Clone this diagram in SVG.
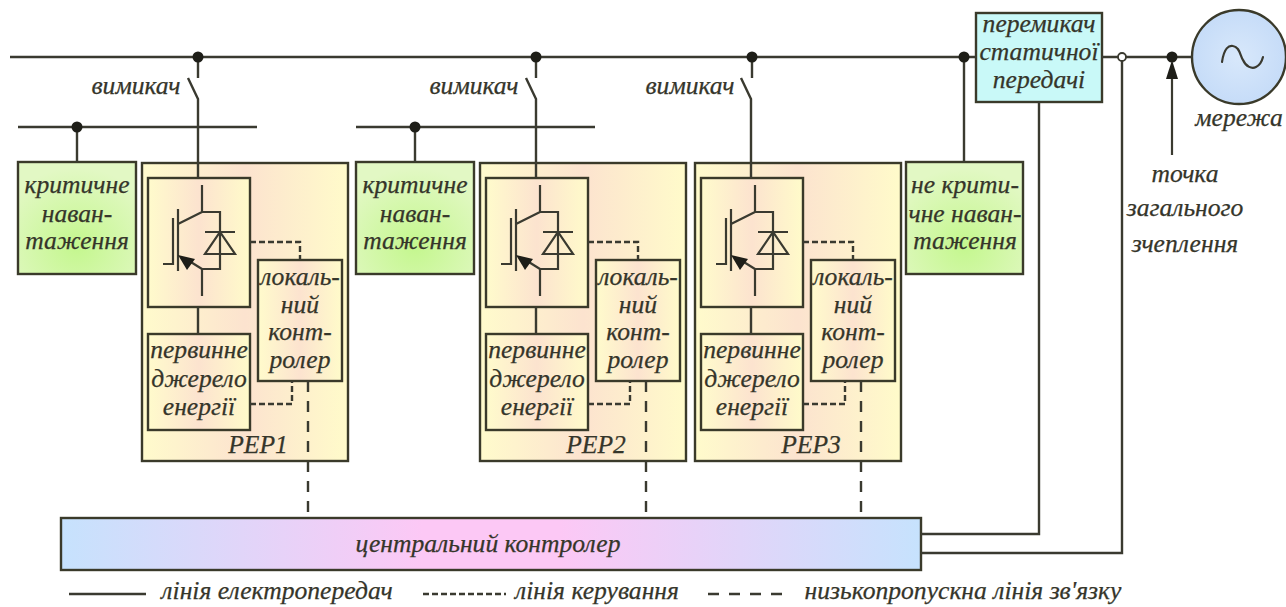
<svg xmlns="http://www.w3.org/2000/svg" width="1286" height="607" viewBox="0 0 1286 607">
<style>
text{font-family:"Liberation Serif","Times New Roman",serif;font-style:italic;font-size:25.6px;fill:#35352a;stroke:#35352a;stroke-width:.25;text-anchor:middle}
.box{stroke:#3a3a2a;stroke-width:2.4}
.w{fill:none;stroke:#3a3a30;stroke-width:2.4}
.t{fill:none;stroke:#3a3a30;stroke-width:2.2}
.d{fill:none;stroke:#3a3a30;stroke-width:2.4;stroke-dasharray:6 3}
.l{fill:none;stroke:#3a3a30;stroke-width:2.4;stroke-dasharray:11 9}
.dot{fill:#1e1e18}
</style>
<defs>
<linearGradient id="der"><stop offset="0" stop-color="#fffbcc"/><stop offset=".5" stop-color="#fce3cf"/><stop offset="1" stop-color="#fffbca"/></linearGradient>
<radialGradient id="green" cx=".5" cy=".75" r=".7"><stop offset="0" stop-color="#c4f78e"/><stop offset="1" stop-color="#e2f8c4"/></radialGradient>
<linearGradient id="central"><stop offset="0" stop-color="#c6e2fd"/><stop offset=".42" stop-color="#fcc8f5"/><stop offset=".58" stop-color="#fcc8f5"/><stop offset="1" stop-color="#c6e2fd"/></linearGradient>
<radialGradient id="grid"><stop offset="0" stop-color="#d8e8fb"/><stop offset="1" stop-color="#c6dcf8"/></radialGradient>
</defs>
<rect width="1286" height="607" fill="#fff"/>
<g id="load1"><rect class="box" x="18" y="162" width="118" height="112" fill="url(#green)"/><text x="77" y="193">критичне</text><text x="77" y="222">наван-</text><text x="77" y="249">таження</text></g>
<g id="load2"><rect class="box" x="356" y="162" width="118" height="112" fill="url(#green)"/><text x="415" y="193">критичне</text><text x="415" y="222">наван-</text><text x="415" y="249">таження</text></g>
<g id="load3"><rect class="box" x="906" y="162" width="117" height="112" fill="url(#green)"/><text x="965" y="193">не крити-</text><text x="965" y="222">чне наван-</text><text x="965" y="249">таження</text></g>

<g id="der1">
<rect class="box" x="142" y="163" width="206" height="298" fill="url(#der)"/>
<rect class="box" x="148" y="178" width="102" height="129" fill="url(#der)"/>
<path class="t" d="M202 185V212H220V269H202V296M178 209V271M173 218V264H163M178 224L202 212M186 259L202 269M205 232H235M205 254H235L220 232Z"/><path class="dot" d="M178 255L195 259L187 270Z"/>
<rect class="box" x="148" y="334" width="102" height="96" fill="url(#der)"/>
<rect class="box" x="258" y="260" width="84" height="121" fill="url(#der)"/>
<text x="300" y="285">локаль-</text><text x="300" y="313">ний</text><text x="300" y="340">конт-</text><text x="300" y="368">ролер</text>
<text x="199" y="358">первинне</text><text x="199" y="387">джерело</text><text x="199" y="415">енергії</text>
<text x="258" y="453">РЕР1</text>
</g>
<g id="der2">
<rect class="box" x="480" y="163" width="206" height="298" fill="url(#der)"/>
<rect class="box" x="486" y="178" width="102" height="129" fill="url(#der)"/>
<path class="t" d="M540 185V212H558V269H540V296M516 209V271M511 218V264H501M516 224L540 212M524 259L540 269M543 232H573M543 254H573L558 232Z"/><path class="dot" d="M516 255L533 259L525 270Z"/>
<rect class="box" x="486" y="334" width="102" height="96" fill="url(#der)"/>
<rect class="box" x="596" y="260" width="84" height="121" fill="url(#der)"/>
<text x="638" y="285">локаль-</text><text x="638" y="313">ний</text><text x="638" y="340">конт-</text><text x="638" y="368">ролер</text>
<text x="537" y="358">первинне</text><text x="537" y="387">джерело</text><text x="537" y="415">енергії</text>
<text x="596" y="453">РЕР2</text>
</g>
<g id="der3">
<rect class="box" x="695" y="163" width="206" height="298" fill="url(#der)"/>
<rect class="box" x="701" y="178" width="102" height="129" fill="url(#der)"/>
<path class="t" d="M755 185V212H773V269H755V296M731 209V271M726 218V264H716M731 224L755 212M739 259L755 269M758 232H788M758 254H788L773 232Z"/><path class="dot" d="M731 255L748 259L740 270Z"/>
<rect class="box" x="701" y="334" width="102" height="96" fill="url(#der)"/>
<rect class="box" x="811" y="260" width="84" height="121" fill="url(#der)"/>
<text x="853" y="285">локаль-</text><text x="853" y="313">ний</text><text x="853" y="340">конт-</text><text x="853" y="368">ролер</text>
<text x="752" y="358">первинне</text><text x="752" y="387">джерело</text><text x="752" y="415">енергії</text>
<text x="811" y="453">РЕР3</text>
</g>
<g id="static-switch"><rect class="box" x="976" y="13" width="126" height="89" fill="#c9f9f8"/><text x="1039" y="32">перемикач</text><text x="1039" y="60">статичної</text><text x="1039" y="88">передачі</text></g>
<g id="grid-source"><circle class="box" cx="1239" cy="57" r="47" fill="url(#grid)"/><path class="t" stroke-linecap="round" d="M1222 62C1224 48 1229 45 1233 46C1240 47 1240 56 1243 60C1246 67 1252 69 1256 67C1260 65 1262 61 1263 57"/><text x="1239" y="126">мережа</text></g>
<g id="central-controller"><rect class="box" x="61" y="518" width="860" height="52" fill="url(#central)"/><text x="488" y="552">центральний контролер</text></g>
<g id="connectors">
<path class="w" d="M10 57H976M1102 57H1192"/>
<path class="w" d="M198 57V78M188 78L198 99V178M18 127H257M77 127V162M198 307V334"/>
<path class="w" d="M536 57V78M526 78L536 99V178M356 127H595M415 127V162M536 307V334"/>
<path class="w" d="M752 57V78M741 78L751 99V178M751 307V334"/>
<path class="w" d="M964 57V162M1039 102V534H921M1122 57V553H921"/>
<path class="t" d="M1172 155V76"/>
<path class="dot" d="M1172 60L1178 79H1166Z"/>
<path class="d" d="M250 242H300V260M250 404H292V381M588 242H638V260M588 404H630V381M803 242H853V260M803 404H845V381"/>
<path class="l" d="M308 381V518M646 381V518M861 381V518"/>
<circle class="dot" cx="198" cy="57" r="5.5"/><circle class="dot" cx="536" cy="57" r="5.5"/><circle class="dot" cx="752" cy="57" r="5.5"/><circle class="dot" cx="964" cy="57" r="5.5"/><circle class="dot" cx="1172" cy="57" r="5.5"/>
<circle class="dot" cx="77" cy="127" r="5.5"/><circle class="dot" cx="415" cy="127" r="5.5"/>
<circle cx="1122" cy="57" r="4" fill="#fff" stroke="#3a3a30" stroke-width="1.8"/>
</g>
<g id="labels">
<text x="136" y="94">вимикач</text><text x="474" y="94">вимикач</text><text x="690" y="94">вимикач</text>
<text x="1185" y="182">точка</text><text x="1185" y="216">загального</text><text x="1185" y="252">зчеплення</text>
</g>
<g id="legend">
<path class="w" d="M69 594H146"/><path class="d" d="M423 594H506" style="stroke-dasharray:6 3"/><path class="l" d="M708 594H792" style="stroke-dasharray:11 10"/>
<text x="277" y="599">лінія електропередач</text><text x="597" y="599">лінія керування</text><text x="963" y="599">низькопропускна лінія зв'язку</text>
</g>
</svg>
